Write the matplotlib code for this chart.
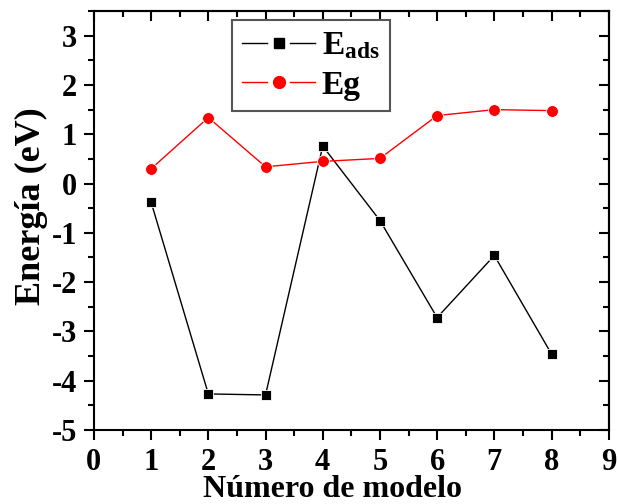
import matplotlib
matplotlib.use("Agg")
import matplotlib.pyplot as plt
from matplotlib.lines import Line2D
from matplotlib.legend_handler import HandlerBase
from matplotlib.ticker import MultipleLocator

plt.rcParams['font.family'] = ['Liberation Serif', 'DejaVu Serif']
plt.rcParams['font.weight'] = 'bold'
plt.rcParams['axes.unicode_minus'] = False
plt.rcParams['mathtext.fontset'] = 'custom'
plt.rcParams['mathtext.rm'] = 'Liberation Serif:bold'
plt.rcParams['mathtext.bf'] = 'Liberation Serif:bold'
plt.rcParams['mathtext.it'] = 'Liberation Serif:bold'

modelos = [1, 2, 3, 4, 5, 6, 7, 8]
e_ads = [-0.38, -4.27, -4.29, 0.76, -0.75, -2.72, -1.46, -3.46]
e_g = [0.30, 1.34, 0.34, 0.45, 0.51, 1.38, 1.50, 1.48]
xticks = [0, 1, 2, 3, 4, 5, 6, 7, 8, 9]
yticks = [-5, -4, -3, -2, -1, 0, 1, 2, 3]


class SplitLineHandler(HandlerBase):
    """line - gap - marker - gap - line"""
    def create_artists(self, legend, orig_handle, xdescent, ydescent,
                       width, height, fontsize, trans):
        y = height / 2 - ydescent
        x0 = -xdescent
        x1 = x0 + width
        seg = width * 0.34
        c = orig_handle.get_color()
        lw = orig_handle.get_linewidth()
        l1 = Line2D([x0, x0 + seg], [y, y], color=c, lw=lw)
        l2 = Line2D([x1 - seg, x1], [y, y], color=c, lw=lw)
        m = Line2D([(x0 + x1) / 2], [y], color=c, marker=orig_handle.get_marker(),
                   ms=orig_handle.get_markersize(), linestyle='none')
        arts = [l1, l2, m]
        for a in arts:
            a.set_transform(trans)
        return arts


fig = plt.figure(figsize=(6.18, 5.04), dpi=100)
ax = fig.add_axes([0.152, 0.147, 0.833, 0.831])

l_ads, = ax.plot(modelos, e_ads, color='black', lw=1.0, marker='s', ms=6.5,
                 mfc='black', mec='white', mew=0.6)
l_g, = ax.plot(modelos, e_g, color='red', lw=1.0, marker='o', ms=8.5,
               mfc='red', mec='white', mew=0.6)

ax.set_xlim(0, 9)
ax.set_ylim(-5, 3.5)
ax.set_xticks(xticks)
ax.set_yticks(yticks)
ax.xaxis.set_minor_locator(MultipleLocator(0.5))
ax.yaxis.set_minor_locator(MultipleLocator(0.5))

for s in ax.spines.values():
    s.set_linewidth(1.5)

ax.tick_params(which='both', direction='out', top=False, right=False, width=1.5)
ax.tick_params(which='major', length=7, labelsize=22)
ax.tick_params(axis='x', which='major', pad=6)
ax.tick_params(axis='y', which='major', pad=5)
ax.tick_params(which='minor', length=4)
# mirrored inward ticks on top/right
axt = ax.secondary_xaxis('top')
axt.set_xticks(xticks)
axt.xaxis.set_minor_locator(MultipleLocator(0.5))
axt.tick_params(which='both', direction='in', labeltop=False, width=1.5)
axt.tick_params(which='major', length=7)
axt.tick_params(which='minor', length=4)
axt.spines['top'].set_linewidth(1.5)
axr = ax.secondary_yaxis('right')
axr.set_yticks(yticks)
axr.yaxis.set_minor_locator(MultipleLocator(0.5))
axr.tick_params(which='both', direction='in', labelright=False, width=1.5)
axr.tick_params(which='major', length=7)
axr.tick_params(which='minor', length=4)
axr.spines['right'].set_linewidth(1.5)

for lab in ax.get_xticklabels() + ax.get_yticklabels():
    lab.set_fontweight('bold')

ax.set_xlabel('Número de modelo', fontsize=23, fontweight='bold')
ax.xaxis.set_label_coords(0.464, -0.160)
ax.xaxis.label.set_verticalalignment('baseline')
ax.set_ylabel('Energía (eV)', fontsize=26, fontweight='bold')
ax.yaxis.set_label_coords(-0.122, 0.535)
ax.yaxis.label.set_verticalalignment('center')

fs = 24
h1 = Line2D([], [], color='black', lw=1.0, marker='s', ms=6.5)
h2 = Line2D([], [], color='red', lw=1.0, marker='o', ms=8.5)
handler = SplitLineHandler()
leg = ax.legend([h1, h2], [r'E$_{\mathrm{ads}}$', 'Eg'],
                handler_map={h1: handler, h2: handler},
                loc='upper left', bbox_to_anchor=(0.268, 0.978),
                borderaxespad=0, fontsize=fs, handlelength=2.2,
                fancybox=False, framealpha=1, edgecolor='#555555',
                borderpad=0.3, labelspacing=0.25, handletextpad=0.2)
leg.get_frame().set_linewidth(1.5)
for t in leg.get_texts():
    t.set_fontweight('bold')

fig.savefig('out.png', dpi=100)
